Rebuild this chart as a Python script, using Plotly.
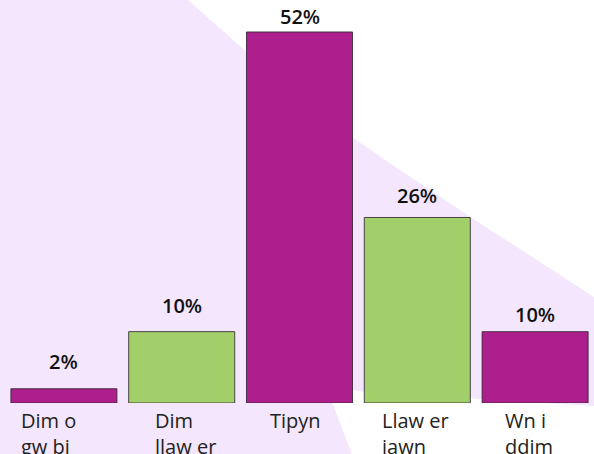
import plotly.graph_objects as go

categories = ["Dim o<br>gw bi", "Dim<br>llaw er", "Tipyn", "Llaw er<br>iawn", "Wn i<br>ddim"]
values = [2, 10, 52, 26, 10]
value_labels = ["2%", "10%", "52%", "26%", "10%"]
bar_colors = ["#AD1F8C", "#A2CF6A", "#AD1F8C", "#A2CF6A", "#AD1F8C"]

# layout/style settings
label_dx = [-44.5, -28.5, -32, -37, -32.5]  # px offset of left-aligned category labels
value_gap = [18, 17, 6, 12, 8]              # px gap between value label and bar top

W, H = 594, 454
ML, MR, MT, MB = 5, 0, 0, 51
pw, ph = W - ML - MR, H - MT - MB

def px(x, y):
    return (x - ML) / pw, (H - MB - y) / ph

def path(points):
    pts = [px(x, y) for x, y in points]
    return "M " + " L ".join(f"{a:.4f},{b:.4f}" for a, b in pts) + " Z"

white_top = [(188, 0), (250, 55), (330, 122), (400, 170), (475, 220), (594, 297), (600, 297), (600, -5), (188, -5)]
white_bottom = [(326, 386), (365, 392), (594, 406), (600, 406), (600, 460), (354, 460)]

fig = go.Figure()
fig.add_trace(go.Bar(
    x=list(range(len(values))),
    y=values,
    marker=dict(color=bar_colors, line=dict(color="rgba(50,40,50,0.85)", width=1)),
    width=0.9,
    hoverinfo="skip",
))

annotations = []
for i, (v, t) in enumerate(zip(values, value_labels)):
    annotations.append(dict(
        x=i, y=v, xref="x", yref="y", text=t, showarrow=False,
        xanchor="center", yanchor="bottom", yshift=value_gap[i] - 6,
        font=dict(family="Open Sans", size=20, color="#111111", weight=600),
    ))
for i, c in enumerate(categories):
    annotations.append(dict(
        x=i, y=0, xref="x", yref="y", text=c, showarrow=False,
        xanchor="left", yanchor="top", align="left", xshift=label_dx[i], yshift=-1.5,
        font=dict(family="Open Sans", size=20, color="#222222"),
    ))

shapes = [
    dict(type="path", xref="paper", yref="paper", path=path(white_top),
         fillcolor="white", line=dict(width=0), layer="below"),
    dict(type="path", xref="paper", yref="paper", path=path(white_bottom),
         fillcolor="white", line=dict(width=0), layer="below"),
]

fig.update_layout(
    width=W, height=H,
    margin=dict(l=ML, r=MR, t=MT, b=MB),
    paper_bgcolor="#F3E6FD",
    plot_bgcolor="rgba(0,0,0,0)",
    showlegend=False,
    xaxis=dict(range=[-0.5, 4.5], showticklabels=False, showgrid=False, zeroline=False, ticks=""),
    yaxis=dict(range=[0, 403 / 7.135], showticklabels=False, showgrid=False, zeroline=False, ticks=""),
    annotations=annotations,
    shapes=shapes,
)

fig.write_html("out.html", config={"displayModeBar": False},
               post_script="document.body.style.margin='0px';")
